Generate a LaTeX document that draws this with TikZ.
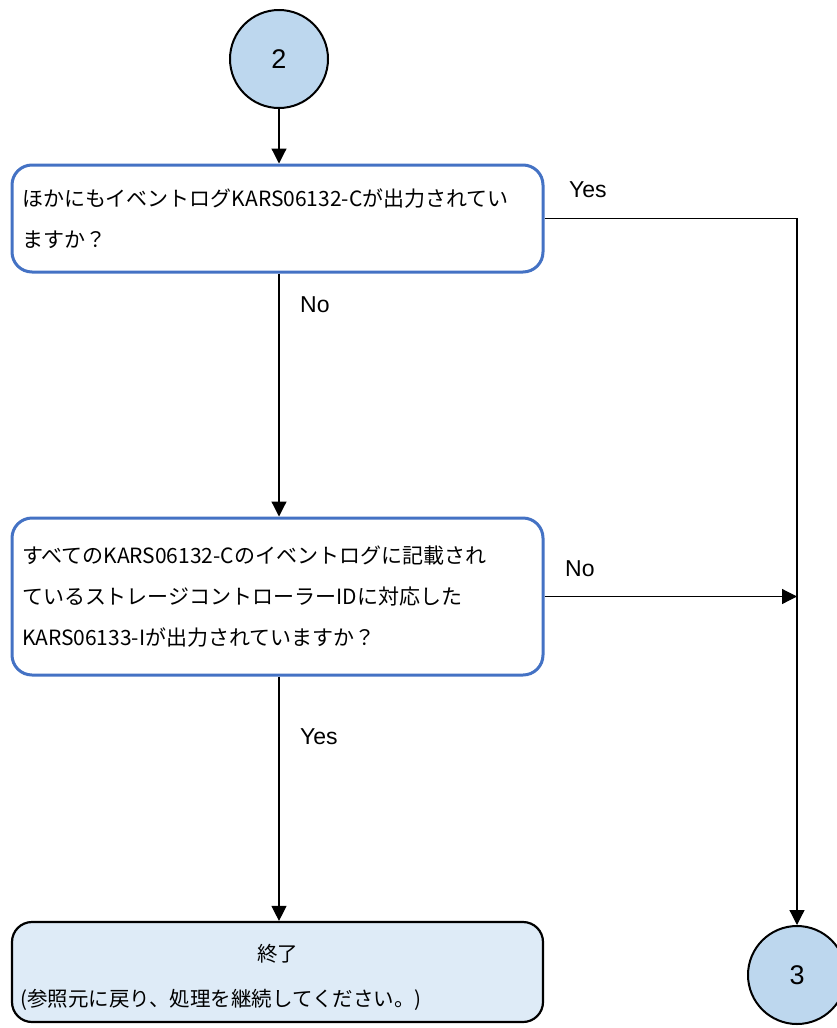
\documentclass[tikz,border=0pt]{standalone}
\usepackage{fontspec}
\setmainfont{Liberation Sans}
\newfontfamily\jp{Noto Sans CJK JP}
\usetikzlibrary{arrows.meta}
\definecolor{boxblue}{HTML}{4472C4}
\definecolor{circfill}{HTML}{BDD7EE}
\definecolor{endfill}{HTML}{DEEBF7}
\begin{document}
\begin{tikzpicture}[x=1pt,y=-1pt,
  conn/.style={draw=black, line width=1.2pt},
  arr/.style={conn, -{Triangle[length=15pt,width=15pt]}},
  connector/.style={circle, draw=black, line width=2pt, fill=circfill, minimum size=98pt, inner sep=0pt, font=\fontsize{27}{30}\selectfont},
  decision/.style={draw=boxblue, line width=3pt, rounded corners=20pt, fill=white, minimum width=531pt, text width=511pt, align=left, inner xsep=10pt, inner ysep=0pt, font=\jp\fontsize{21}{41}\selectfont},
  terminal/.style={draw=black, line width=2.2pt, rounded corners=20pt, fill=endfill, minimum width=531pt, minimum height=100pt},
  jptext/.style={inner sep=0pt, font=\jp\fontsize{20.5}{24}\selectfont},
  lbl/.style={inner sep=0pt, font=\fontsize{23}{26}\selectfont},
]
\useasboundingbox (0,0) rectangle (836,1028);
\node[connector] (c2) at (279,59) {2};
\node[decision, minimum height=107pt] (q1) at (277.5,218.5) {ほかにもイベントログKARS06132-Cが出力されてい\\ますか？};
\node[decision, minimum height=157pt] (q2) at (277.5,596.5) {すべてのKARS06132-Cのイベントログに記載され\\ているストレージコントローラーIDに対応した\\KARS06133-Iが出力されていますか？};
\node[terminal] (end) at (277.5,972) {};
\node[jptext] (endt1) at (277.5,954) {終了};
\node[jptext, anchor=west] (endt2) at (20,1000) {(参照元に戻り、処理を継続してください。)};
\node[connector] (c3) at (797,975) {3};

\coordinate (q1b) at (c2.south |- q1.south);
\coordinate (q2b) at (c2.south |- q2.south);
\draw[arr] (c2.south) -- (c2.south |- q1.north);
\draw[arr] (q1.east) -| (c3.north);
\draw[arr] (q1b) -- (c2.south |- q2.north);
\draw[arr] (q2.east) -- (q2.east -| c3.north);
\draw[arr] (q2b) -- (c2.south |- end.north);

\node[lbl, anchor=west] (ly1) at (569,190) {Yes};
\node[lbl, anchor=west] (ln1) at (300,305) {No};
\node[lbl, anchor=west] (ln2) at (565,569) {No};
\node[lbl, anchor=west] (ly2) at (300,737) {Yes};
\end{tikzpicture}
\end{document}
